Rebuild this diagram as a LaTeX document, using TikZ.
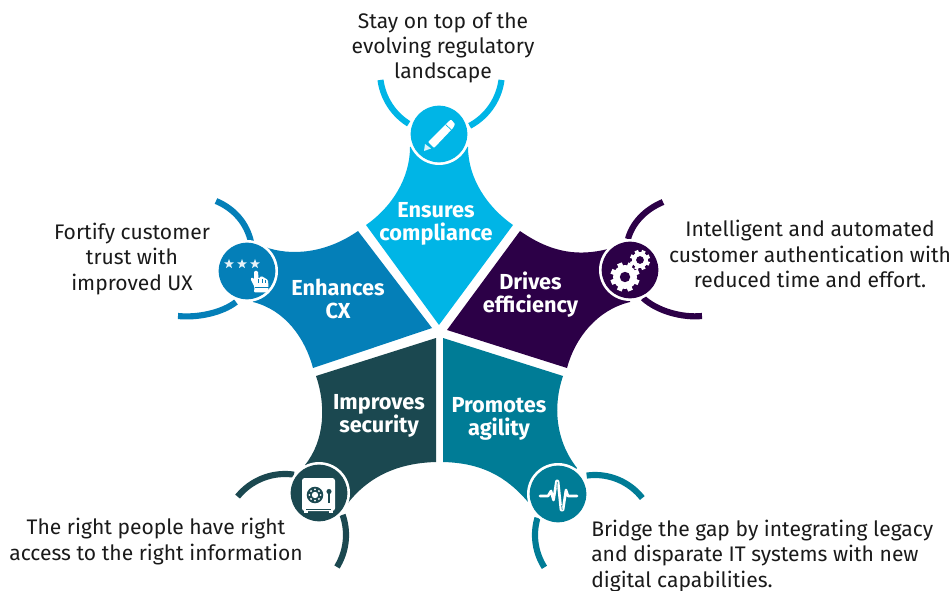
\documentclass[tikz,border=0pt]{standalone}
\usepackage{fontspec}
\setmainfont{Fira Sans}
\definecolor{cTop}{HTML}{00B5E6}
\definecolor{cLeft}{HTML}{047FB8}
\definecolor{cRight}{HTML}{2C0047}
\definecolor{cBL}{HTML}{1B4850}
\definecolor{cBR}{HTML}{007C96}
\definecolor{cTxt}{HTML}{1A1A1A}
\tikzset{
  arcline/.style={line width=4.6pt,line cap=butt},
  wedge/.style={draw=none},
  ring/.style={circle,fill=white,draw=none,minimum size=46.5pt,inner sep=0pt},
  iconbg/.style={circle,draw=none,minimum size=42.5pt,inner sep=0pt},
  lbl/.style={align=center,text=cTxt,inner sep=0pt,font=\fontsize{15.8}{18.9}\selectfont},
  head/.style={align=center,text=white,inner sep=0pt,font=\fontsize{16.3}{17.2}\selectfont\bfseries},
  icon/.style={fill=white,draw=none}
}
\newcommand{\ringarc}[6]{\draw[arcline,#6] plot[domain=#4:#5,samples=40] ({#1+#2*cos(\x)},{#3+#2*sin(\x)});}
\begin{document}
\begin{tikzpicture}[x=0.75pt,y=-0.75pt]
\useasboundingbox (0,0) rectangle (952,591);
% arcs
\ringarc{441}{61}{72}{122}{172.5}{cTop}
\ringarc{441}{61}{72}{7.5}{62}{cTop}
\draw[arcline,cLeft] (216,201) .. controls (235,209) and (247,224) .. (251,242);
\draw[arcline,cLeft] (178,316) .. controls (197,318) and (222,313) .. (236,302);
\draw[arcline,cRight] (663,202) .. controls (644,210) and (632,224) .. (628,239);
\draw[arcline,cRight] (702,316) .. controls (682,318) and (657,311) .. (643,298);
\ringarc{285}{61}{535}{-141}{-81.5}{cBL}
\ringarc{285}{61}{535}{-19.3}{31.6}{cBL}
\ringarc{595}{60}{535}{-98}{-38}{cBR}
\ringarc{595}{60}{535}{147.4}{196.6}{cBR}
% wedges
\fill[wedge,cTop] (439,325) -- (366,225) .. controls (392,207) and (410,178) .. (410,147) -- (439,134) -- (468,147) .. controls (468,178) and (487,207) .. (513,225) -- cycle;
\fill[wedge,cLeft] (358,231) -- (432,328) -- (313,368) .. controls (305,338) and (285,310) .. (253,302) -- (247,271) -- (265,247) .. controls (290,256) and (325,254) .. cycle;
\fill[wedge,cRight] (520,231) -- (447,330) -- (567,368) .. controls (575,338) and (597,310) .. (630,302) -- (630,270) -- (608,249) .. controls (580,256) and (553,254) .. cycle;
\fill[wedge,cBL] (316,376) -- (436,338) -- (436,462) .. controls (400,463) and (370,475) .. (348,503) -- (319,493) -- (305,465) .. controls (325,440) and (326,405) .. cycle;
\fill[wedge,cBR] (443,338) -- (563,376) .. controls (553,405) and (555,440) .. (577,468) -- (558,494) -- (528,502) .. controls (505,475) and (480,463) .. (443,462) -- cycle;
% icon discs
\node[ring] (rT) at (439,134) {};
\node[iconbg,fill=cTop] (iT) at (439,134) {};
\node[ring] (rL) at (247,271) {};
\node[iconbg,fill=cLeft] (iL) at (247,271) {};
\node[ring] (rR) at (630,270) {};
\node[iconbg,fill=cRight] (iR) at (630,270) {};
\node[ring] (rBL) at (319,493) {};
\node[iconbg,fill=cBL] (iBL) at (319,493) {};
\node[ring] (rBR) at (558,494) {};
\node[iconbg,fill=cBR] (iBR) at (558,494) {};
% pencil
\fill[icon,rounded corners=0.6pt] (428,142) -- (448,122) -- (451,119.5) -- (455,124) -- (453,128) -- (434,148) -- cycle;
\draw[cTop,line width=0.5pt] (445.5,124.5) -- (451.5,130);
\fill[icon,opacity=.85] (424,151) -- (425,144) -- (431,148.5) -- cycle;
% stars
\foreach \sx in {229,242,255}{
  \fill[icon,opacity=.9] plot[domain=0:9,samples=10] ({\sx+(mod(round(\x),2)==0?5:2.1)*cos(-90+36*\x)},{264+(mod(round(\x),2)==0?5:2.1)*sin(-90+36*\x)}) -- cycle;
}
% hand
\fill[icon,rounded corners=0.8pt] (254,271) -- (258,271) -- (258.5,279) -- (261,276) -- (264,277.5) -- (268,280) -- (268.5,287) -- (268,292.5) -- (254,292.5) -- (254.5,287) -- (250.5,279) -- (252,277) -- (254,279.5) -- cycle;
\draw[cLeft,line width=0.35pt] (258.5,279) -- (258.5,283) (262,279.5) -- (262,283) (265.5,280) -- (265.5,283);
\draw[cLeft,line width=0.5pt] (254.5,287) -- (268.5,287);
% gears
\foreach \cx/\cy/\R/\T in {625/277/12/4.2,640/260/8/3.2}{
  \fill[icon] (\cx,\cy) circle[radius=\R*0.75pt];
  \foreach \a in {0,45,...,315}{
    \fill[icon,rotate around={\a+22:(\cx,\cy)}] ({\cx-\T*0.6},{\cy-\R-\T*0.65}) rectangle ({\cx+\T*0.6},{\cy});
  }
}
\fill[cRight] (625,277) circle[radius=3.9pt];
\fill[cRight] (640,260) circle[radius=2.9pt];
% safe
\fill[icon,rounded corners=2pt] (302,478) rectangle (335,511);
\fill[icon] (304,510) rectangle (308,513);
\fill[icon] (329,510) rectangle (333,513);
\draw[cBL,line width=0.5pt] (306,509) -- (331,509);
\fill[cBL] (315,495) circle[radius=6.2pt];
\fill[white] (315,495) circle[radius=2.4pt];
\foreach \a in {0,45,...,315}{\fill[white] ({315+5.6*cos(\a)},{495+5.6*sin(\a)}) circle[radius=0.8pt];}
\draw[cBL,line width=1.3pt] (329,503) -- (329,492);
\fill[cBL] (329,491.5) circle[radius=1.9pt];
% heartbeat
\draw[white,line width=2pt,line join=round,line cap=round] (540,496) -- (548,496) -- (551,491) -- (553.5,500) -- (556.5,481) -- (558,481) -- (561,510) -- (563,510) -- (566,490) -- (568,496) -- (577,496);
\draw[cBR,line width=0.5pt] (556.8,488) -- (557.3,482) (561.6,505) -- (562.2,510);
% headings
\node[head] (hT) at (436,224) {Ensures\\compliance};
\node[head] (hL) at (338,299) {Enhances\\CX};
\node[head] (hR) at (530.5,295) {Drives\\efficiency};
\node[head] (hBL) at (379,416) {Improves\\security};
\node[head] (hBR) at (499,419) {Promotes\\agility};
% labels
\node[lbl] (tT) at (443,48) {Stay on top of the\\evolving regulatory\\landscape};
\node[lbl] (tL) at (132,259) {Fortify customer\\trust with\\improved UX};
\node[lbl] (tR) at (810,254) {Intelligent and automated\\customer authentication with\\reduced time and effort.};
\node[lbl] (tBL) at (156,541.5) {The right people have right\\access to the right information};
\node[lbl,align=left,anchor=west] (tBR) at (591,556) {Bridge the gap by integrating legacy\\and disparate IT systems with new\\digital capabilities.};
\end{tikzpicture}
\end{document}
